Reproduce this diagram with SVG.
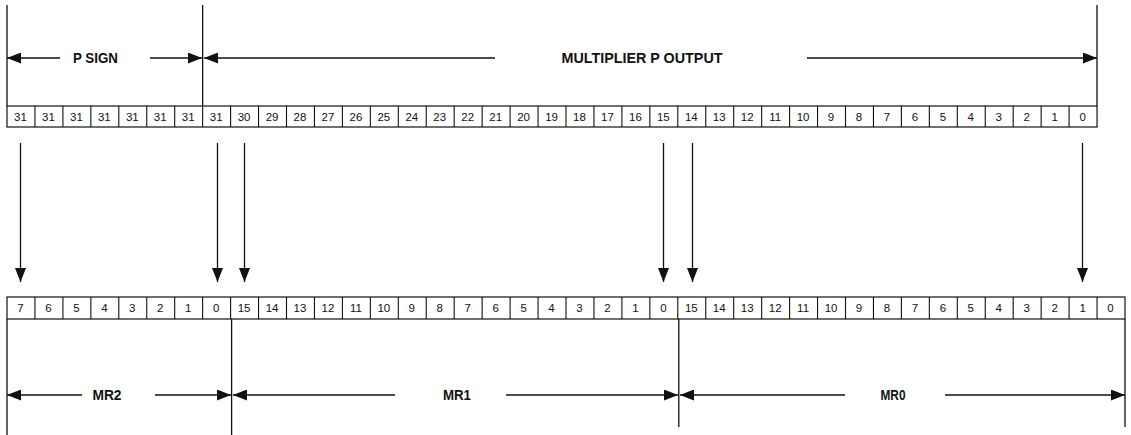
<svg xmlns="http://www.w3.org/2000/svg" width="1131" height="435" viewBox="0 0 1131 435">
<style>
.box{fill:#fff;stroke:#111;stroke-width:1.2}
.div{stroke:#111;stroke-width:1.1;fill:none}
.n{font-family:"Liberation Sans",Arial,sans-serif;font-size:11.5px;fill:#111;text-anchor:middle}
.lbl{font-family:"Liberation Sans",Arial,sans-serif;font-size:14px;font-weight:bold;fill:#111;text-anchor:middle}
.ln{stroke:#111;stroke-width:1.3;fill:none}
.arr{stroke:#111;stroke-width:1.3;fill:none;marker-end:url(#ah)}
</style>
<defs>
<marker id="ah" markerWidth="14" markerHeight="11" refX="14" refY="5.5" orient="auto" markerUnits="userSpaceOnUse"><path d="M0,0 L14,5.5 L0,11 Z" fill="#111"/></marker>
</defs>
<rect width="1131" height="435" fill="#fff"/>

<g id="p-output">
<rect class="box" x="7" y="106" width="1090.05" height="21"/>
<path class="div" d="M34.95,106V127M62.9,106V127M90.85,106V127M118.8,106V127M146.75,106V127M174.7,106V127M202.65,106V127M230.6,106V127M258.55,106V127M286.5,106V127M314.45,106V127M342.4,106V127M370.35,106V127M398.3,106V127M426.25,106V127M454.2,106V127M482.15,106V127M510.1,106V127M538.05,106V127M566,106V127M593.95,106V127M621.9,106V127M649.85,106V127M677.8,106V127M705.75,106V127M733.7,106V127M761.65,106V127M789.6,106V127M817.55,106V127M845.5,106V127M873.45,106V127M901.4,106V127M929.35,106V127M957.3,106V127M985.25,106V127M1013.2,106V127M1041.15,106V127M1069.1,106V127"/>
<g>
<text class="n" x="20.5" y="121">31</text>
<text class="n" x="48.45" y="121">31</text>
<text class="n" x="76.4" y="121">31</text>
<text class="n" x="104.35" y="121">31</text>
<text class="n" x="132.3" y="121">31</text>
<text class="n" x="160.25" y="121">31</text>
<text class="n" x="188.2" y="121">31</text>
<text class="n" x="216.15" y="121">31</text>
<text class="n" x="244.1" y="121">30</text>
<text class="n" x="272.05" y="121">29</text>
<text class="n" x="300" y="121">28</text>
<text class="n" x="327.95" y="121">27</text>
<text class="n" x="355.9" y="121">26</text>
<text class="n" x="383.85" y="121">25</text>
<text class="n" x="411.8" y="121">24</text>
<text class="n" x="439.75" y="121">23</text>
<text class="n" x="467.7" y="121">22</text>
<text class="n" x="495.65" y="121">21</text>
<text class="n" x="523.6" y="121">20</text>
<text class="n" x="551.55" y="121">19</text>
<text class="n" x="579.5" y="121">18</text>
<text class="n" x="607.45" y="121">17</text>
<text class="n" x="635.4" y="121">16</text>
<text class="n" x="663.35" y="121">15</text>
<text class="n" x="691.3" y="121">14</text>
<text class="n" x="719.25" y="121">13</text>
<text class="n" x="747.2" y="121">12</text>
<text class="n" x="775.15" y="121">11</text>
<text class="n" x="803.1" y="121">10</text>
<text class="n" x="831.05" y="121">9</text>
<text class="n" x="859" y="121">8</text>
<text class="n" x="886.95" y="121">7</text>
<text class="n" x="914.9" y="121">6</text>
<text class="n" x="942.85" y="121">5</text>
<text class="n" x="970.8" y="121">4</text>
<text class="n" x="998.75" y="121">3</text>
<text class="n" x="1026.7" y="121">2</text>
<text class="n" x="1054.65" y="121">1</text>
<text class="n" x="1082.6" y="121">0</text>
</g>
<path class="ln" d="M7,5V106M202.65,5V106M1097,5V106"/>
<text class="lbl" x="95.5" y="63" textLength="45" lengthAdjust="spacingAndGlyphs">P SIGN</text>
<text class="lbl" x="642" y="63" textLength="161" lengthAdjust="spacingAndGlyphs">MULTIPLIER  P  OUTPUT</text>
</g>

<g id="mr-registers">
<rect class="box" x="7" y="297" width="1118" height="22"/>
<path class="div" d="M34.95,297V319M62.9,297V319M90.85,297V319M118.8,297V319M146.75,297V319M174.7,297V319M202.65,297V319M230.6,297V319M258.55,297V319M286.5,297V319M314.45,297V319M342.4,297V319M370.35,297V319M398.3,297V319M426.25,297V319M454.2,297V319M482.15,297V319M510.1,297V319M538.05,297V319M566,297V319M593.95,297V319M621.9,297V319M649.85,297V319M677.8,297V319M705.75,297V319M733.7,297V319M761.65,297V319M789.6,297V319M817.55,297V319M845.5,297V319M873.45,297V319M901.4,297V319M929.35,297V319M957.3,297V319M985.25,297V319M1013.2,297V319M1041.15,297V319M1069.1,297V319M1097.05,297V319"/>
<g>
<text class="n" x="20.5" y="312">7</text>
<text class="n" x="48.45" y="312">6</text>
<text class="n" x="76.4" y="312">5</text>
<text class="n" x="104.35" y="312">4</text>
<text class="n" x="132.3" y="312">3</text>
<text class="n" x="160.25" y="312">2</text>
<text class="n" x="188.2" y="312">1</text>
<text class="n" x="216.15" y="312">0</text>
<text class="n" x="244.1" y="312">15</text>
<text class="n" x="272.05" y="312">14</text>
<text class="n" x="300" y="312">13</text>
<text class="n" x="327.95" y="312">12</text>
<text class="n" x="355.9" y="312">11</text>
<text class="n" x="383.85" y="312">10</text>
<text class="n" x="411.8" y="312">9</text>
<text class="n" x="439.75" y="312">8</text>
<text class="n" x="467.7" y="312">7</text>
<text class="n" x="495.65" y="312">6</text>
<text class="n" x="523.6" y="312">5</text>
<text class="n" x="551.55" y="312">4</text>
<text class="n" x="579.5" y="312">3</text>
<text class="n" x="607.45" y="312">2</text>
<text class="n" x="635.4" y="312">1</text>
<text class="n" x="663.35" y="312">0</text>
<text class="n" x="691.3" y="312">15</text>
<text class="n" x="719.25" y="312">14</text>
<text class="n" x="747.2" y="312">13</text>
<text class="n" x="775.15" y="312">12</text>
<text class="n" x="803.1" y="312">11</text>
<text class="n" x="831.05" y="312">10</text>
<text class="n" x="859" y="312">9</text>
<text class="n" x="886.95" y="312">8</text>
<text class="n" x="914.9" y="312">7</text>
<text class="n" x="942.85" y="312">6</text>
<text class="n" x="970.8" y="312">5</text>
<text class="n" x="998.75" y="312">4</text>
<text class="n" x="1026.7" y="312">3</text>
<text class="n" x="1054.65" y="312">2</text>
<text class="n" x="1082.6" y="312">1</text>
<text class="n" x="1110.55" y="312">0</text>
</g>
<path class="ln" d="M7,319V435M231.6,319V435M678.8,319V427M1125,319V427"/>
<text class="lbl" x="107" y="400" textLength="29" lengthAdjust="spacingAndGlyphs">MR2</text>
<text class="lbl" x="457" y="400" textLength="28" lengthAdjust="spacingAndGlyphs">MR1</text>
<text class="lbl" x="893" y="400" textLength="25" lengthAdjust="spacingAndGlyphs">MR0</text>
</g>

<g id="connectors">
<line class="arr" x1="60" y1="58" x2="7" y2="58"/>
<line class="arr" x1="150" y1="58" x2="202" y2="58"/>
<line class="arr" x1="495" y1="58" x2="204" y2="58"/>
<line class="arr" x1="807" y1="58" x2="1097" y2="58"/>
<line class="arr" x1="82" y1="395" x2="7" y2="395"/>
<line class="arr" x1="155" y1="395" x2="231" y2="395"/>
<line class="arr" x1="395" y1="395" x2="233" y2="395"/>
<line class="arr" x1="506" y1="395" x2="678" y2="395"/>
<line class="arr" x1="845" y1="395" x2="680" y2="395"/>
<line class="arr" x1="945" y1="395" x2="1125" y2="395"/>
<line class="arr" x1="20.5" y1="143" x2="20.5" y2="282"/>
<line class="arr" x1="217.5" y1="143" x2="217.5" y2="282"/>
<line class="arr" x1="244.5" y1="143" x2="244.5" y2="282"/>
<line class="arr" x1="663.5" y1="143" x2="663.5" y2="282"/>
<line class="arr" x1="692.5" y1="143" x2="692.5" y2="282"/>
<line class="arr" x1="1082.5" y1="143" x2="1082.5" y2="282"/>
</g>
</svg>
